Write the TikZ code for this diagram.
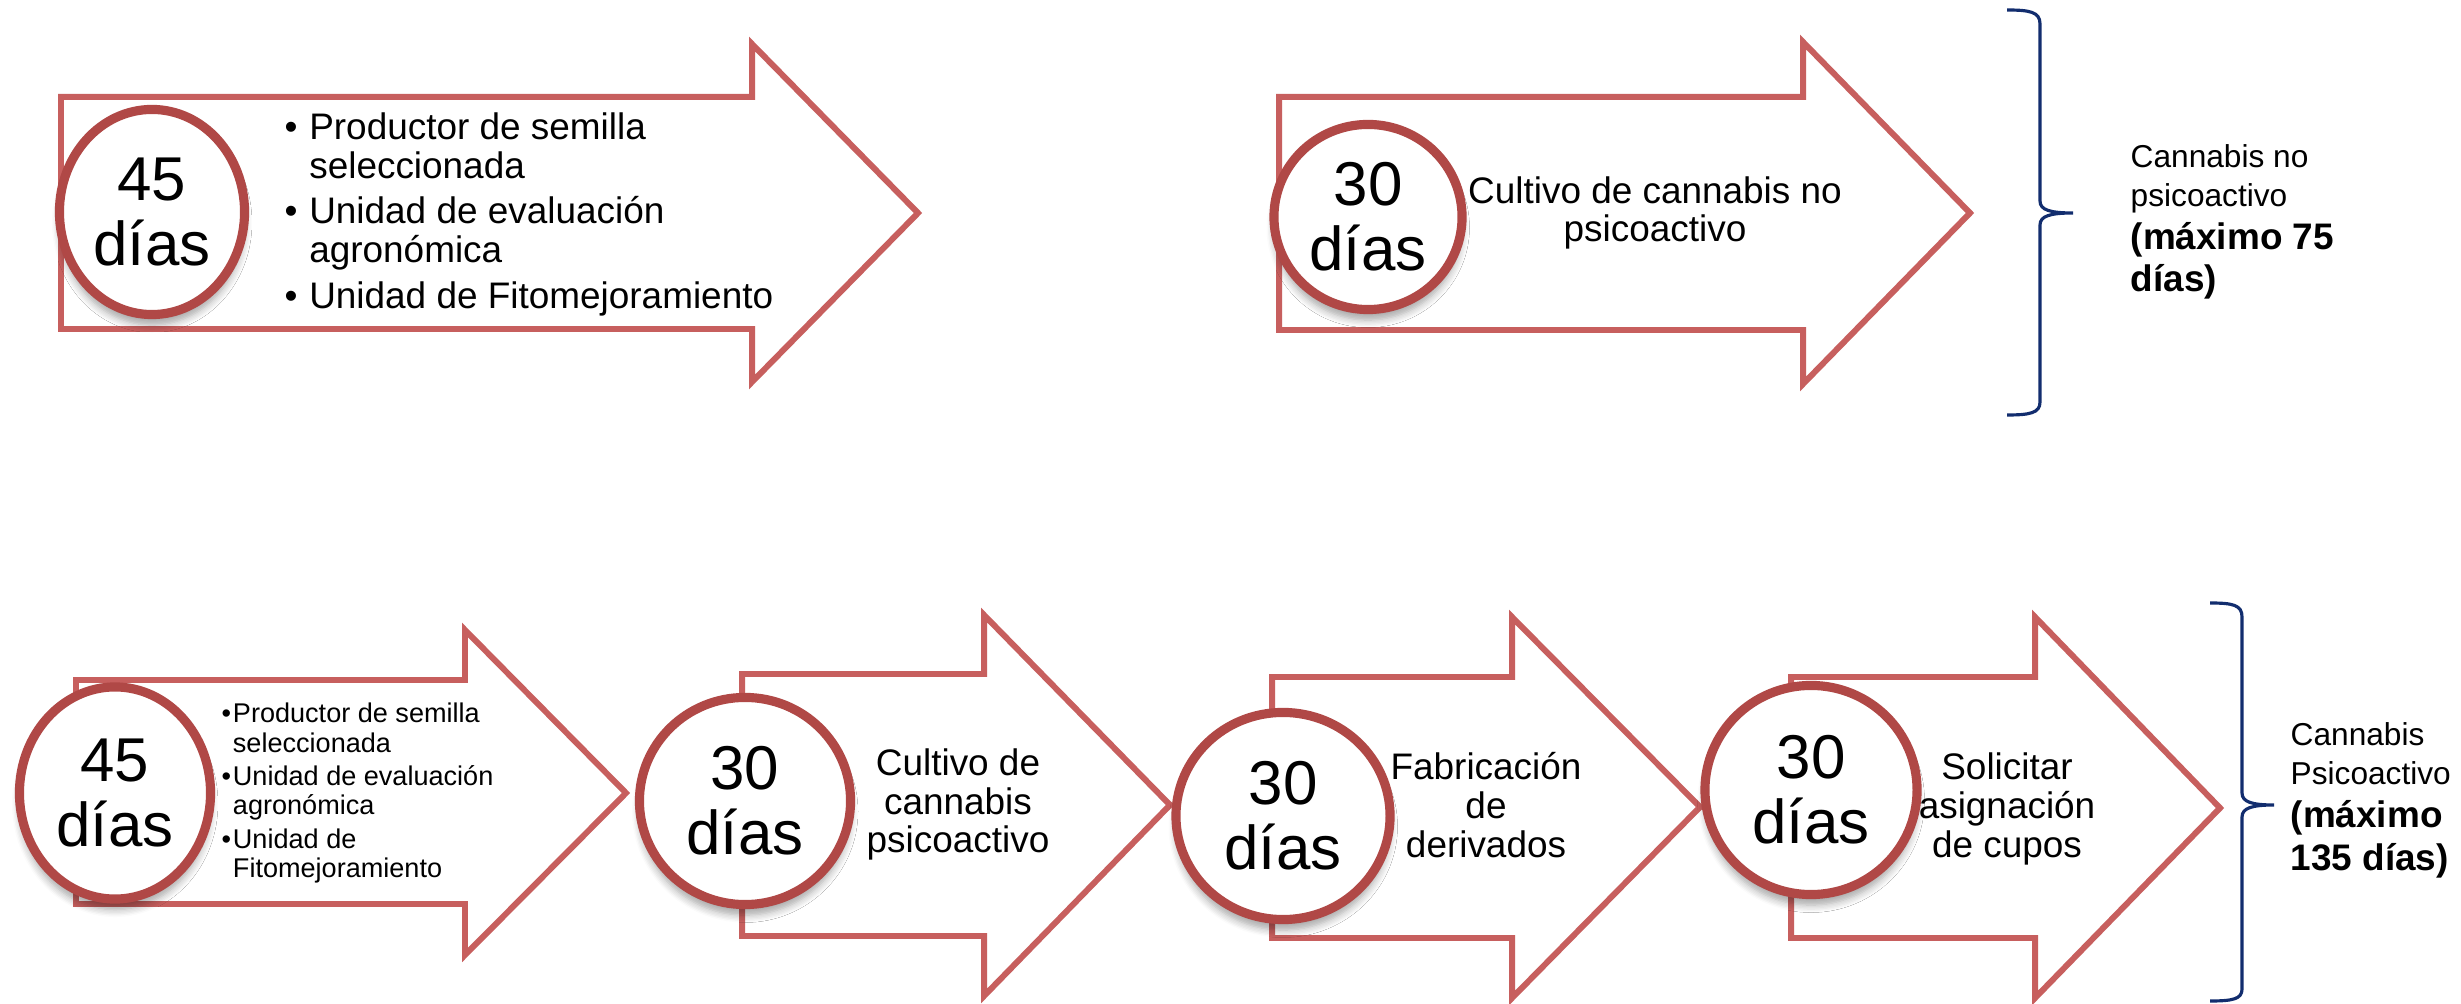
\documentclass[tikz,border=0pt]{standalone}
\usepackage{fontspec}
\setmainfont{Liberation Sans}
\usetikzlibrary{shapes.geometric,shadows.blur}

\definecolor{arrowred}{RGB}{199,95,94}
\definecolor{circred}{RGB}{176,72,70}
\definecolor{bracenavy}{RGB}{18,45,110}

\newcommand{\bigdays}{\fontsize{17.6}{18.5}\selectfont}
\newcommand{\steptext}{\fontsize{10.5}{11}\selectfont}
\newcommand{\smalltext}{\fontsize{7.7}{8.25}\selectfont}
\newcommand{\sumtext}{\fontsize{9}{11.1}\selectfont}
\newcommand{\sumbold}{\fontsize{10.5}{11.1}\selectfont\bfseries}

\begin{document}
\begin{tikzpicture}[x=0.01cm,y=-0.01cm,
  steparrow/.style={draw=arrowred,line width=1.7pt,fill=white,line join=miter},
  days/.style={ellipse,draw=circred,line width=2.6pt,fill=white,inner sep=0pt,
    align=center,font=\bigdays,
    blur shadow={shadow xshift=0pt,shadow yshift=-3pt,shadow blur steps=6,shadow opacity=35}},
  steplabel/.style={align=center,font=\steptext,anchor=base},
  sumbrace/.style={draw=bracenavy,line width=0.9pt},
  sumlabel/.style={align=left,font=\sumtext,anchor=base west,inner sep=0pt}]
\useasboundingbox (0,0) rectangle (2461,1004);

% Top row: arrows
\draw[steparrow] (61,97) -- (752,97) -- (752,44) -- (918,213) -- (752,382) -- (752,329) -- (61,329) -- cycle;
\draw[steparrow] (1279,97) -- (1803,97) -- (1803,42) -- (1970,213) -- (1803,384) -- (1803,330) -- (1279,330) -- cycle;

% Top row: texts
\node[anchor=base west,font=\steptext,inner sep=0pt] (list1) at (284,139.5) {%
  \begin{tabular}[t]{@{}p{7pt}@{}l@{}}
  \textbullet & Productor de semilla\\
  & seleccionada\\[2pt]
  \textbullet & Unidad de evaluación\\
  & agronómica\\[2pt]
  \textbullet & Unidad de Fitomejoramiento
  \end{tabular}};
\node[steplabel] (cultivo1) at (1655,242) {Cultivo de cannabis no\\psicoactivo};

% Top row: days
\node[days,minimum width=1.85cm,minimum height=2.05cm] (d1) at (152,212) {45\\días};
\node[days,minimum width=1.88cm,minimum height=1.85cm] (d2) at (1368,217) {30\\días};

% Top row: total
\draw[sumbrace] (2007,10) .. controls (2030,10) and (2040,12) .. (2040,24) -- (2040,201)
  .. controls (2040,210) and (2050,213) .. (2073,213) .. controls (2050,213) and (2040,216) .. (2040,225)
  -- (2040,402) .. controls (2040,413) and (2030,415) .. (2007,415);
\node[sumlabel] (total1) at (2130,292) {Cannabis no\\psicoactivo\\[1.2pt]{\sumbold (máximo 75}\\[0.9pt]{\sumbold días)}};

% Bottom row: arrows
\draw[steparrow] (76,680) -- (465,680) -- (465,630) -- (626,793) -- (465,955) -- (465,904) -- (76,904) -- cycle;
\draw[steparrow] (742,674) -- (984,674) -- (984,615) -- (1170,805) -- (984,996) -- (984,936) -- (742,936) -- cycle;
\draw[steparrow] (1272,677) -- (1512,677) -- (1512,617) -- (1700,807) -- (1512,998) -- (1512,938) -- (1272,938) -- cycle;
\draw[steparrow] (1791,677) -- (2035,677) -- (2035,617) -- (2220,808) -- (2035,998) -- (2035,938) -- (1791,938) -- cycle;

% Bottom row: texts
\node[anchor=base west,font=\smalltext,inner sep=0pt] (list2) at (221,723) {%
  \begin{tabular}[t]{@{}p{3.2pt}@{}l@{}}
  \textbullet & Productor de semilla\\
  & seleccionada\\[1.3pt]
  \textbullet & Unidad de evaluación\\
  & agronómica\\[1.3pt]
  \textbullet & Unidad de\\
  & Fitomejoramiento
  \end{tabular}};
\node[steplabel] (cultivo2) at (958,853) {Cultivo de\\cannabis\\psicoactivo};
\node[steplabel] (fabric) at (1486,857) {Fabricación\\de\\derivados};
\node[steplabel] (cupos) at (2007,857) {Solicitar\\asignación\\de cupos};

% Bottom row: days
\node[days,minimum width=1.91cm,minimum height=2.12cm] (b1) at (115,793) {45\\días};
\node[days,minimum width=2.11cm,minimum height=2.07cm] (b2) at (745,801) {30\\días};
\node[days,minimum width=2.14cm,minimum height=2.07cm] (b3) at (1283,816) {30\\días};
\node[days,minimum width=2.12cm,minimum height=2.09cm] (b4) at (1811,790) {30\\días};

% Bottom row: total
\draw[sumbrace] (2210,603) .. controls (2233,603) and (2242,605) .. (2242,617) -- (2242,793)
  .. controls (2242,802) and (2252,805) .. (2274,805) .. controls (2252,805) and (2242,808) .. (2242,817)
  -- (2242,989) .. controls (2242,999) and (2233,1001) .. (2210,1001);
\node[sumlabel] (total2) at (2290,870) {Cannabis\\Psicoactivo\\[1.2pt]{\sumbold (máximo}\\[0.9pt]{\sumbold 135 días)}};
\end{tikzpicture}
\end{document}
